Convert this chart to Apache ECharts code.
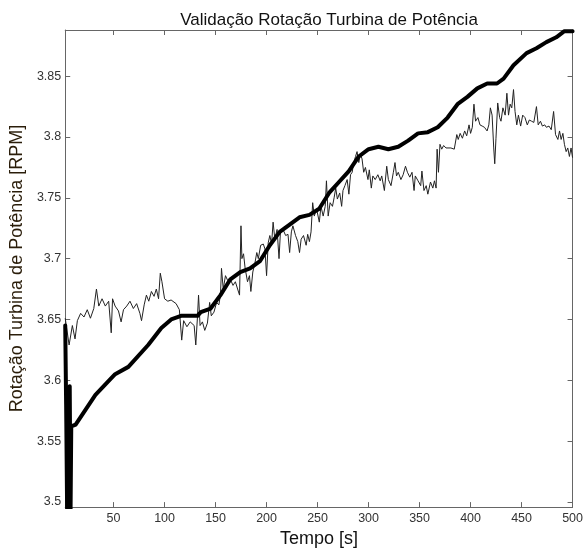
<!DOCTYPE html>
<html>
<head>
<meta charset="utf-8">
<script src="https://cdn.jsdelivr.net/npm/echarts@6/dist/echarts.min.js"></script>
<style>
  html, body { margin: 0; padding: 0; background: #fff; }
  #chart { width: 586px; height: 553px; }
</style>
</head>
<body>
<div id="chart"></div>
<script>
// simulação (linha grossa)
const modeloTempo = [2.6, 3.5, 4.5, 6, 7, 7.8, 8.5, 12.8, 32.2, 51.5, 64.5, 83.9, 96.8, 106.5, 116.1, 132.3, 135.5, 145.1, 154.8, 164.5, 174.2, 183.8, 193.5, 203.2, 212.9, 222.6, 232.3, 242, 251.6, 261.3, 271, 280.7, 290.4, 300, 309.7, 319.4, 329.1, 338.8, 348.5, 358.1, 367.8, 377.5, 387.2, 396.9, 406.6, 416.3, 425.9, 432.4, 442.1, 454.9, 464.6, 474.3, 484, 492, 500];
const modeloRot = [3.645, 3.58, 3.49, 3.49, 3.595, 3.49, 3.562, 3.5635, 3.588, 3.605, 3.611, 3.629, 3.643, 3.650, 3.653, 3.653, 3.656, 3.659, 3.670, 3.683, 3.689, 3.692, 3.698, 3.711, 3.722, 3.728, 3.734, 3.736, 3.741, 3.754, 3.763, 3.772, 3.784, 3.790, 3.792, 3.790, 3.792, 3.797, 3.803, 3.804, 3.808, 3.816, 3.827, 3.833, 3.840, 3.844, 3.844, 3.848, 3.859, 3.869, 3.873, 3.878, 3.882, 3.887, 3.887];

// medição (linha fina)
const medidoTempo = [2.6, 6.4, 9.6, 12.2, 14.5, 17.7, 21.0, 24.2, 27.3, 30.6, 33.2, 35.5, 38.7, 41.9, 45.2, 47.7, 49.0, 51.5, 54.8, 57.4, 59.7, 62.9, 66.1, 69.4, 72.6, 75.8, 77.4, 80.0, 82.2, 84.5, 87.1, 89.7, 91.9, 94.1, 95.8, 97.4, 100.0, 103.2, 106.4, 111.3, 114.5, 116.8, 118.7, 121.9, 125.1, 129.0, 130.6, 132.3, 133.3, 134.8, 137.1, 139.4, 142.0, 144.2, 145.8, 148.4, 151.0, 153.2, 154.8, 155.8, 157.5, 159.7, 161.9, 164.5, 167.1, 169.4, 171.6, 173.5, 174.9, 175.8, 177.4, 179.0, 181.3, 183.2, 184.6, 186.5, 188.7, 190.4, 191.9, 194.2, 196.8, 198.4, 200.0, 201.6, 203.2, 204.9, 206.4, 208.1, 210.3, 212.2, 213.6, 216.1, 218.7, 221.0, 222.6, 224.3, 225.8, 228.4, 230.6, 232.3, 233.9, 236.2, 238.8, 240.3, 242.0, 243.6, 245.2, 246.8, 249.0, 251.7, 253.3, 255.5, 257.5, 258.7, 260.4, 262.3, 264.6, 266.2, 267.8, 269.4, 271.7, 273.6, 274.9, 276.8, 279.0, 280.7, 282.3, 283.9, 285.5, 287.2, 288.7, 290.4, 292.0, 293.6, 295.2, 296.9, 299.4, 300.7, 302.7, 304.2, 306.5, 309.1, 311.4, 312.9, 315.5, 317.8, 319.4, 322.0, 324.3, 325.9, 327.4, 329.1, 331.7, 333.9, 336.2, 338.1, 340.4, 342.6, 344.6, 345.8, 348.5, 351.1, 352.3, 354.3, 356.5, 358.1, 360.7, 363.0, 364.6, 366.2, 367.2, 368.5, 370.0, 371.7, 373.6, 375.9, 377.5, 380.7, 384.0, 386.5, 387.9, 389.8, 392.0, 394.2, 396.2, 398.5, 400.0, 401.7, 403.3, 404.9, 407.2, 409.2, 411.4, 413.6, 416.2, 417.9, 419.4, 421.1, 422.7, 423.7, 424.9, 426.6, 428.5, 429.8, 431.7, 433.9, 435.6, 437.2, 438.8, 440.4, 442.1, 443.6, 445.3, 446.9, 449.1, 451.1, 453.3, 455.6, 457.6, 459.8, 462.0, 464.6, 466.3, 468.5, 470.4, 472.7, 474.3, 476.9, 479.1, 481.4, 483.3, 485.6, 487.2, 488.8, 490.5, 492.0, 493.7, 495.3, 496.9, 498.5, 500.0];
const medidoRot = [3.651, 3.629, 3.645, 3.634, 3.649, 3.655, 3.652, 3.658, 3.651, 3.659, 3.675, 3.661, 3.667, 3.661, 3.665, 3.639, 3.667, 3.661, 3.657, 3.648, 3.658, 3.661, 3.665, 3.659, 3.663, 3.655, 3.649, 3.662, 3.670, 3.665, 3.673, 3.669, 3.675, 3.667, 3.688, 3.681, 3.667, 3.665, 3.666, 3.663, 3.658, 3.633, 3.649, 3.644, 3.648, 3.645, 3.629, 3.653, 3.670, 3.645, 3.648, 3.641, 3.647, 3.664, 3.653, 3.656, 3.664, 3.662, 3.670, 3.692, 3.675, 3.686, 3.682, 3.683, 3.678, 3.681, 3.675, 3.670, 3.727, 3.700, 3.704, 3.692, 3.681, 3.686, 3.673, 3.689, 3.697, 3.705, 3.700, 3.711, 3.712, 3.708, 3.686, 3.713, 3.719, 3.712, 3.730, 3.716, 3.724, 3.700, 3.722, 3.724, 3.719, 3.720, 3.705, 3.722, 3.727, 3.719, 3.714, 3.705, 3.716, 3.719, 3.711, 3.720, 3.714, 3.722, 3.746, 3.735, 3.741, 3.730, 3.743, 3.735, 3.743, 3.764, 3.735, 3.746, 3.743, 3.750, 3.758, 3.749, 3.754, 3.743, 3.756, 3.760, 3.765, 3.753, 3.769, 3.771, 3.779, 3.784, 3.788, 3.779, 3.786, 3.782, 3.771, 3.775, 3.765, 3.773, 3.758, 3.768, 3.765, 3.769, 3.764, 3.768, 3.756, 3.776, 3.765, 3.760, 3.771, 3.779, 3.768, 3.771, 3.765, 3.769, 3.776, 3.771, 3.767, 3.771, 3.756, 3.768, 3.764, 3.760, 3.772, 3.756, 3.760, 3.753, 3.763, 3.758, 3.764, 3.758, 3.790, 3.771, 3.794, 3.790, 3.793, 3.791, 3.790, 3.791, 3.790, 3.802, 3.798, 3.803, 3.799, 3.805, 3.801, 3.810, 3.803, 3.808, 3.827, 3.813, 3.816, 3.810, 3.809, 3.808, 3.805, 3.810, 3.824, 3.818, 3.791, 3.778, 3.799, 3.828, 3.816, 3.813, 3.824, 3.818, 3.836, 3.818, 3.827, 3.824, 3.839, 3.821, 3.810, 3.818, 3.809, 3.818, 3.816, 3.810, 3.814, 3.813, 3.812, 3.825, 3.810, 3.813, 3.809, 3.810, 3.808, 3.809, 3.806, 3.821, 3.802, 3.798, 3.805, 3.798, 3.803, 3.794, 3.788, 3.791, 3.784, 3.791, 3.783];

const xTicks = [50, 100, 150, 200, 250, 300, 350, 400, 450, 500];
const yTicks = [3.5, 3.55, 3.6, 3.65, 3.7, 3.75, 3.8, 3.85];

const xMin = 2.6, xMax = 500;
const yMin = 3.4957, yMax = 3.888;

const chart = echarts.init(document.getElementById('chart'));

const pares = (ts, vs) => ts.map((t, i) => [t, vs[i]]);
const fonte = 'Liberation Sans, Arial, sans-serif';

// eixo "caixa" estilo matlab: ticks para dentro, rótulos só embaixo/esquerda
const eixoX = (pos, comRotulo) => ({
  type: 'value',
  position: pos,
  min: xMin,
  max: xMax,
  name: comRotulo ? 'Tempo [s]' : '',
  nameLocation: 'middle',
  nameGap: 22,
  nameTextStyle: { fontFamily: fonte, fontSize: 18, color: '#111' },
  axisLine: { show: true, onZero: false, lineStyle: { color: '#666', width: 1 } },
  axisTick: { show: true, inside: true, length: 5, customValues: xTicks, lineStyle: { color: '#666' } },
  axisLabel: { show: comRotulo, customValues: xTicks, margin: 5, fontFamily: fonte, fontSize: 12.5, color: '#333' },
  splitLine: { show: false }
});

const eixoY = (pos, comRotulo) => ({
  type: 'value',
  position: pos,
  min: yMin,
  max: yMax,
  name: comRotulo ? 'Rotação Turbina de Potência [RPM]' : '',
  nameLocation: 'middle',
  nameGap: 36,
  nameRotate: 90,
  nameTextStyle: { fontFamily: fonte, fontSize: 18, color: '#2a1d0a' },
  axisLine: { show: true, onZero: false, lineStyle: { color: '#666', width: 1 } },
  axisTick: { show: true, inside: true, length: 5, customValues: yTicks, lineStyle: { color: '#666' } },
  axisLabel: { show: comRotulo, customValues: yTicks, margin: 4, fontFamily: fonte, fontSize: 12.5, color: '#333' },
  splitLine: { show: false }
});

const option = {
  animation: false,
  backgroundColor: '#fff',
  title: {
    text: 'Validação Rotação Turbina de Potência',
    left: 324,
    textAlign: 'center',
    top: 7,
    textStyle: { fontFamily: fonte, fontSize: 17, fontWeight: 'normal', color: '#111' }
  },
  grid: { left: 62.7, right: 8.7, top: 30, bottom: 43.5, containLabel: false },
  xAxis: [eixoX('bottom', true), eixoX('top', false)],
  yAxis: [eixoY('left', true), eixoY('right', false)],
  series: [
    {
      name: 'medido',
      type: 'line',
      data: pares(medidoTempo, medidoRot),
      symbol: 'none',
      lineStyle: { width: 1, color: '#222' },
      z: 2
    },
    {
      name: 'modelo',
      type: 'line',
      data: pares(modeloTempo, modeloRot),
      symbol: 'none',
      lineStyle: { width: 4, color: '#000', join: 'round', cap: 'round' },
      z: 3
    }
  ]
};

chart.setOption(option);
</script>
</body>
</html>
